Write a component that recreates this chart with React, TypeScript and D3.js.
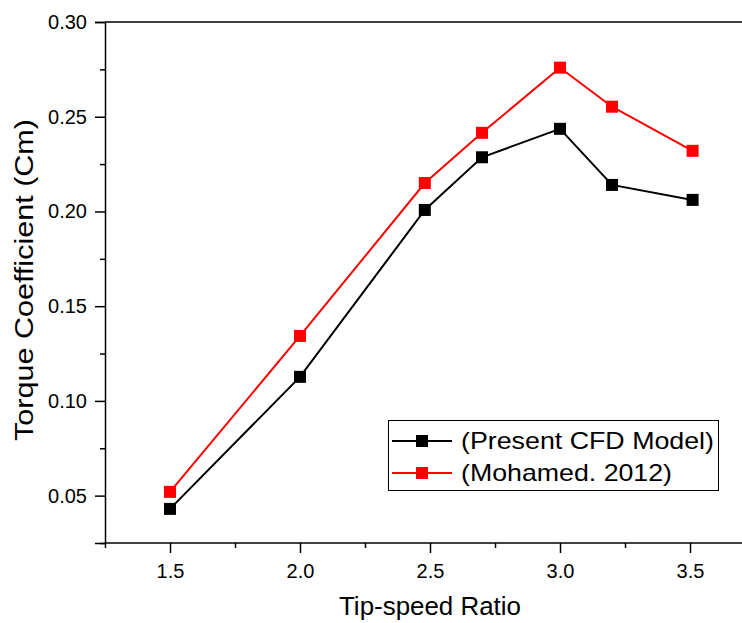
import React, { useRef, useEffect } from 'react';
import * as d3 from 'd3';

// tip-speed ratios and torque coefficients
const tsr = [1.5, 2.0, 2.48, 2.7, 3.0, 3.2, 3.51];
const presentCfd = [0.043, 0.1127, 0.2008, 0.2286, 0.2436, 0.214, 0.2061];
const mohamed2012 = [0.052, 0.1343, 0.215, 0.2415, 0.2759, 0.2553, 0.232];
const seriesNames = ['(Present CFD Model)', '(Mohamed. 2012)'];
const seriesColors = ['#000000', '#ff0000'];
const xTicks = [1.5, 2.0, 2.5, 3.0, 3.5];
const xMinorTicks = [1.25, 1.75, 2.25, 2.75, 3.25, 3.75];
const yTicks = [0.05, 0.1, 0.15, 0.2, 0.25, 0.3];
const yMinorTicks = [0.025, 0.075, 0.125, 0.175, 0.225, 0.275];

const W = 742;
const H = 623;
const FONT = 'Liberation Sans, Arial, sans-serif';

const TorqueChart = () => {
  const svgRef = useRef<SVGSVGElement>(null);

  useEffect(() => {
    const svg = d3.select(svgRef.current);
    svg.selectAll('*').remove();

    const left = 105, top = 22, bottom = 543, right = 755;

    const x = d3.scaleLinear().domain([1.25, 3.75]).range([left, right]);
    const y = d3.scaleLinear().domain([0.025, 0.3]).range([bottom, top]);

    // frame top line (right side is cut off in the original)
    svg.append('line')
      .attr('x1', left).attr('x2', W + 5)
      .attr('y1', top).attr('y2', top)
      .attr('stroke', '#000').attr('stroke-width', 1.5);

    // y axis
    const yAxis = svg.append('g')
      .attr('transform', `translate(${left},0)`)
      .call(d3.axisLeft(y).tickValues(yTicks).tickSize(10).tickPadding(8)
        .tickFormat(d3.format('.2f')));
    const yMinor = svg.append('g')
      .attr('transform', `translate(${left},0)`)
      .call(d3.axisLeft(y).tickValues(yMinorTicks).tickSize(5).tickFormat(() => ''));
    yMinor.select('.domain').remove();

    // x axis
    const xAxis = svg.append('g')
      .attr('transform', `translate(0,${bottom})`)
      .call(d3.axisBottom(x).tickValues(xTicks).tickSize(10).tickPadding(11)
        .tickFormat(d3.format('.1f')));
    const xMinor = svg.append('g')
      .attr('transform', `translate(0,${bottom})`)
      .call(d3.axisBottom(x).tickValues(xMinorTicks).tickSize(5).tickFormat(() => ''));
    xMinor.select('.domain').remove();

    [yAxis, xAxis, yMinor, xMinor].forEach(g => {
      g.select('.domain').attr('stroke-width', 1.5);
      g.selectAll('.tick line').attr('stroke-width', 1.5);
      g.selectAll('.tick text')
        .attr('font-family', FONT)
        .attr('font-size', 20)
        .attr('fill', '#000');
    });
    xAxis.select('.domain').attr('d', `M${left},0H${W + 5}`);

    // axis titles
    svg.append('text')
      .attr('x', x(2.5)).attr('y', 615)
      .attr('text-anchor', 'middle')
      .attr('font-family', FONT).attr('font-size', 25)
      .attr('textLength', 182).attr('lengthAdjust', 'spacingAndGlyphs')
      .text('Tip-speed Ratio');

    svg.append('text')
      .attr('transform', 'translate(33,280) rotate(-90)')
      .attr('text-anchor', 'middle')
      .attr('font-family', FONT).attr('font-size', 26)
      .attr('textLength', 322).attr('lengthAdjust', 'spacingAndGlyphs')
      .text('Torque Coefficient (Cm)');

    // series
    const series = [presentCfd, mohamed2012];
    const line = d3.line<number>()
      .x((_, i) => x(tsr[i]))
      .y(d => y(d));

    series.forEach((vals, s) => {
      svg.append('path')
        .datum(vals)
        .attr('d', line)
        .attr('fill', 'none')
        .attr('stroke', seriesColors[s])
        .attr('stroke-width', 2);
    });
    series.forEach((vals, s) => {
      svg.selectAll(`.pt${s}`)
        .data(vals)
        .enter()
        .append('rect')
        .attr('x', (_, i) => x(tsr[i]) - 6)
        .attr('y', d => y(d) - 6)
        .attr('width', 12)
        .attr('height', 12)
        .attr('fill', seriesColors[s]);
    });

    // legend
    const lg = svg.append('g');
    lg.append('rect')
      .attr('x', 388.5).attr('y', 420.5)
      .attr('width', 330).attr('height', 70)
      .attr('fill', '#fff').attr('stroke', '#000').attr('stroke-width', 1);
    const textLens = [253, 211];
    seriesNames.forEach((name, i) => {
      const cy = 441 + i * 32;
      lg.append('line')
        .attr('x1', 392).attr('x2', 452)
        .attr('y1', cy).attr('y2', cy)
        .attr('stroke', seriesColors[i]).attr('stroke-width', 2);
      lg.append('rect')
        .attr('x', 416).attr('y', cy - 6)
        .attr('width', 12).attr('height', 12)
        .attr('fill', seriesColors[i]);
      lg.append('text')
        .attr('x', 461).attr('y', cy + 8)
        .attr('font-family', FONT).attr('font-size', 24)
        .attr('textLength', textLens[i]).attr('lengthAdjust', 'spacingAndGlyphs')
        .text(name);
    });
  }, []);

  return (
    <svg
      ref={svgRef}
      width={W}
      height={H}
      style={{ position: 'absolute', left: 0, top: 0, background: '#fff' }}
    />
  );
};

export default function App() {
  return <TorqueChart />;
}
